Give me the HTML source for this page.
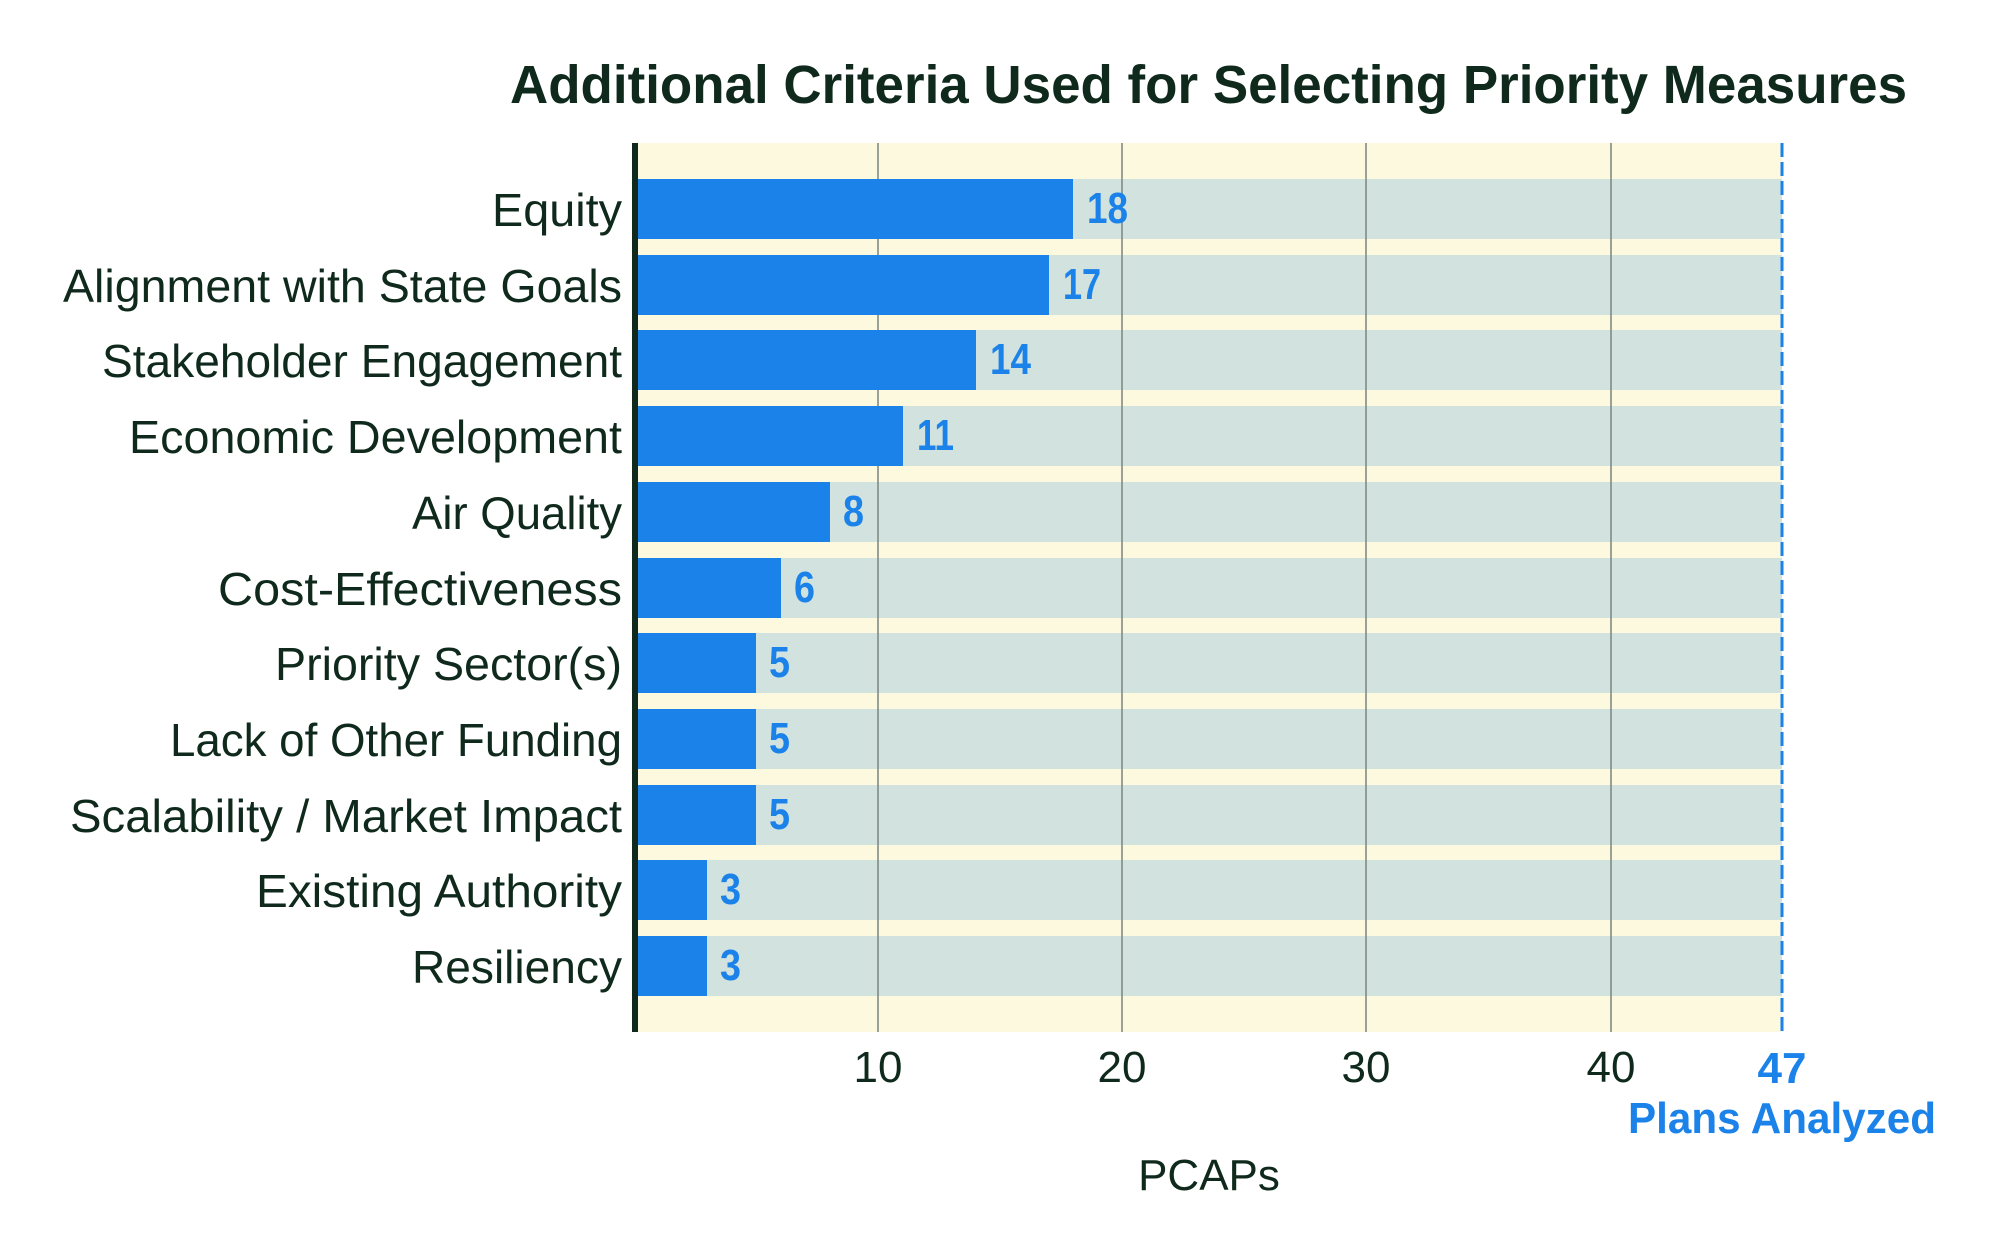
<!DOCTYPE html>
<html><head><meta charset="utf-8"><style>
html,body{margin:0;padding:0;background:#fff}
svg{display:block}
</style></head><body>
<svg width="2000" height="1259" viewBox="0 0 2000 1259" xmlns="http://www.w3.org/2000/svg" font-family="Liberation Sans, sans-serif">
<rect width="2000" height="1259" fill="#fff"/>
<text x="510" y="103" font-size="54" font-weight="bold" fill="#0f2a1c" textLength="1397" lengthAdjust="spacingAndGlyphs">Additional Criteria Used for Selecting Priority Measures</text>
<rect x="637" y="143" width="1145" height="889" fill="#fdf9df"/>
<g fill="#d2e2df">
<rect x="637" y="179" width="1145" height="60"/>
<rect x="637" y="255" width="1145" height="60"/>
<rect x="637" y="330" width="1145" height="60"/>
<rect x="637" y="406" width="1145" height="60"/>
<rect x="637" y="482" width="1145" height="60"/>
<rect x="637" y="558" width="1145" height="60"/>
<rect x="637" y="633" width="1145" height="60"/>
<rect x="637" y="709" width="1145" height="60"/>
<rect x="637" y="785" width="1145" height="60"/>
<rect x="637" y="860" width="1145" height="60"/>
<rect x="637" y="936" width="1145" height="60"/>
</g>
<g stroke="#7a8580" stroke-width="1.5">
<line x1="878" y1="143" x2="878" y2="1032"/>
<line x1="1122" y1="143" x2="1122" y2="1032"/>
<line x1="1366" y1="143" x2="1366" y2="1032"/>
<line x1="1611" y1="143" x2="1611" y2="1032"/>
</g>
<line x1="1782" y1="143" x2="1782" y2="1032" stroke="#1a82e8" stroke-width="3" stroke-dasharray="14,5"/>
<g fill="#1a82e8">
<rect x="637" y="179" width="436" height="60"/>
<rect x="637" y="255" width="412" height="60"/>
<rect x="637" y="330" width="339" height="60"/>
<rect x="637" y="406" width="266" height="60"/>
<rect x="637" y="482" width="193" height="60"/>
<rect x="637" y="558" width="144" height="60"/>
<rect x="637" y="633" width="119" height="60"/>
<rect x="637" y="709" width="119" height="60"/>
<rect x="637" y="785" width="119" height="60"/>
<rect x="637" y="860" width="70" height="60"/>
<rect x="637" y="936" width="70" height="60"/>
</g>
<rect x="632" y="143" width="6" height="889" fill="#0f2a1c"/>
<g font-size="46" fill="#0f2a1c" text-anchor="end" lengthAdjust="spacingAndGlyphs">
<text x="622" y="226" textLength="130" lengthAdjust="spacingAndGlyphs">Equity</text>
<text x="622" y="302" textLength="559" lengthAdjust="spacingAndGlyphs">Alignment with State Goals</text>
<text x="622" y="377" textLength="520" lengthAdjust="spacingAndGlyphs">Stakeholder Engagement</text>
<text x="622" y="453" textLength="493" lengthAdjust="spacingAndGlyphs">Economic Development</text>
<text x="622" y="529" textLength="210" lengthAdjust="spacingAndGlyphs">Air Quality</text>
<text x="622" y="605" textLength="404" lengthAdjust="spacingAndGlyphs">Cost-Effectiveness</text>
<text x="622" y="680" textLength="347" lengthAdjust="spacingAndGlyphs">Priority Sector(s)</text>
<text x="622" y="756" textLength="452" lengthAdjust="spacingAndGlyphs">Lack of Other Funding</text>
<text x="622" y="832" textLength="552" lengthAdjust="spacingAndGlyphs">Scalability / Market Impact</text>
<text x="622" y="907" textLength="366" lengthAdjust="spacingAndGlyphs">Existing Authority</text>
<text x="622" y="983" textLength="210" lengthAdjust="spacingAndGlyphs">Resiliency</text>
</g>
<g font-size="44" font-weight="bold" fill="#1a82e8">
<text x="1087" y="223" textLength="41" lengthAdjust="spacingAndGlyphs">18</text>
<text x="1063" y="299" textLength="38" lengthAdjust="spacingAndGlyphs">17</text>
<text x="990" y="374" textLength="41" lengthAdjust="spacingAndGlyphs">14</text>
<text x="917" y="450" textLength="37" lengthAdjust="spacingAndGlyphs">11</text>
<text x="843" y="526" textLength="21" lengthAdjust="spacingAndGlyphs">8</text>
<text x="794" y="602" textLength="21" lengthAdjust="spacingAndGlyphs">6</text>
<text x="769" y="677" textLength="21" lengthAdjust="spacingAndGlyphs">5</text>
<text x="769" y="753" textLength="21" lengthAdjust="spacingAndGlyphs">5</text>
<text x="769" y="829" textLength="21" lengthAdjust="spacingAndGlyphs">5</text>
<text x="720" y="904" textLength="21" lengthAdjust="spacingAndGlyphs">3</text>
<text x="720" y="980" textLength="21" lengthAdjust="spacingAndGlyphs">3</text>
</g>
<g font-size="44" fill="#0f2a1c" text-anchor="middle">
<text x="878" y="1082">10</text>
<text x="1122" y="1082">20</text>
<text x="1366" y="1082">30</text>
<text x="1611" y="1082">40</text>
<text x="1209" y="1190">PCAPs</text>
</g>
<text x="1782" y="1083" font-size="44" font-weight="bold" fill="#1a82e8" text-anchor="middle">47</text>
<text x="1628" y="1133" font-size="44" font-weight="bold" fill="#1a82e8" textLength="308" lengthAdjust="spacingAndGlyphs">Plans Analyzed</text>
</svg>
</body></html>
